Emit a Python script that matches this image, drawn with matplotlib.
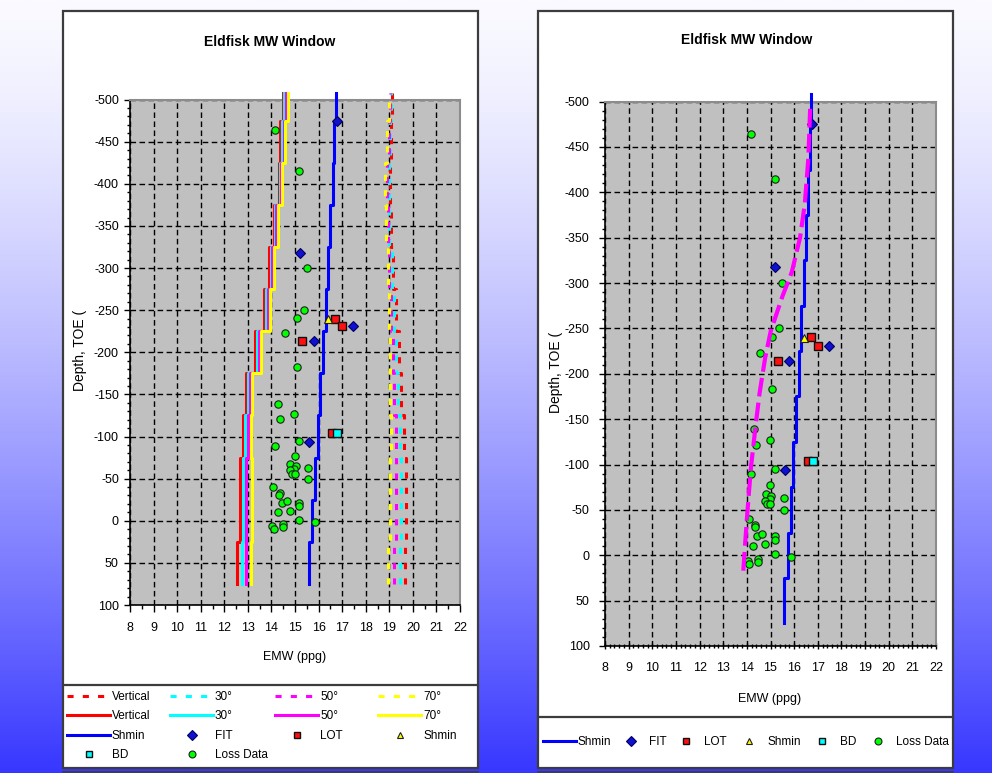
import numpy as np
import matplotlib
matplotlib.use("Agg")
import matplotlib.pyplot as plt
from matplotlib.lines import Line2D
from matplotlib.patches import Rectangle
from matplotlib.ticker import MultipleLocator

plt.rcParams['font.family'] = ['Liberation Sans', 'DejaVu Sans']
plt.rcParams['axes.unicode_minus'] = False

W, H, DPI = 992, 773, 100

# ---------------- data ----------------
# depth boundaries of the mud-weight steps (TOE), bottom to top
step_depth = [75, 25, -75, -125, -175, -225, -275, -325, -375, -425, -475, -508]

# collapse (lower) bound per hole angle, ppg
low_vertical = [12.53, 12.65, 12.78, 12.90, 13.30, 13.67, 13.91, 14.10, 14.30, 14.38, 14.48]
low_30 = [12.75, 12.80, 12.88, 13.00, 13.40, 13.76, 13.97, 14.16, 14.35, 14.45, 14.55]
low_50 = [12.93, 12.93, 13.00, 13.08, 13.48, 13.84, 14.03, 14.21, 14.40, 14.52, 14.62]
low_70 = [13.13, 13.18, 13.12, 13.18, 13.57, 13.92, 14.09, 14.26, 14.45, 14.59, 14.70]

# fracture (upper) bound per hole angle, ppg
up_vertical = [19.66, 19.70, 19.62, 19.50, 19.40, 19.30, 19.17, 19.08, 19.05, 19.08, 19.12]
up_30 = [19.45, 19.50, 19.45, 19.38, 19.30, 19.20, 19.10, 19.00, 18.98, 19.02, 19.08]
up_50 = [19.20, 19.30, 19.27, 19.20, 19.15, 19.08, 19.00, 18.95, 18.92, 18.98, 19.03]
up_70 = [18.95, 19.05, 19.08, 19.05, 19.02, 18.98, 18.93, 18.85, 18.82, 18.90, 18.97]

# minimum horizontal stress profile
shmin_depth = [75, 25, -25, -75, -125, -175, -225, -275, -325, -375, -425, -475, -508]
shmin_emw = [15.58, 15.73, 15.85, 15.96, 16.06, 16.19, 16.31, 16.40, 16.49, 16.60, 16.66, 16.72]

# fitted lower bound (right chart)
fit_curve_depth = [17, -40, -96, -145, -179, -217, -247, -285, -312, -350, -387, -437, -494]
fit_curve_emw = [13.85, 14.00, 14.17, 14.38, 14.54, 14.77, 15.01, 15.50, 15.90, 16.25, 16.45, 16.60, 16.68]

# test points
fit_emw = [16.77, 15.20, 15.79, 17.48, 15.60]
fit_depth = [-475, -318, -214, -231, -94]
lot_emw = [15.30, 16.70, 16.99, 16.57]
lot_depth = [-214, -240, -231, -104]
shmin_pt_emw = [16.40]
shmin_pt_depth = [-239]
bd_emw = [16.78]
bd_depth = [-104]
loss_emw = [14.17, 15.17, 15.50, 15.37, 15.08, 14.57, 15.08, 14.29, 14.96, 14.37,
            15.17, 14.17, 14.99, 14.80, 15.03, 15.57, 14.97, 14.77, 14.87, 14.98,
            15.57, 14.07, 14.35, 14.33, 14.45, 14.66, 15.17, 15.17, 14.27, 14.77,
            15.17, 14.03, 14.10, 14.47, 14.47, 15.86]
loss_depth = [-464, -415, -300, -250, -241, -223, -183, -139, -127, -121,
              -95, -89, -77, -67, -65, -63, -62, -60, -56, -56,
              -50, -40, -33, -31, -21, -23, -21, -17, -10, -12,
              -1.5, 6, 10, 4, 7.5, 1.5]

x_ticks = list(range(8, 23))
y_ticks = list(range(-500, 101, 50))
title = "Eldfisk MW Window"
x_title = "EMW (ppg)"
y_title = "Depth, TOE ("


def step_xy(bounds, vals):
    xs = np.repeat(np.asarray(vals, float), 2)
    b = np.asarray(bounds, float)
    ys = np.column_stack([b[:-1], b[1:]]).ravel()
    return xs, ys


# ---------------- styles ----------------
DOT = (0, (2, 3))
LW = 2.2
styles_marker = dict(
    fit=dict(marker='D', ms=5.2, mfc='#1010d0', mec='#000060', mew=0.8),
    lot=dict(marker='s', ms=5.8, mfc='#ff1010', mec='#101010', mew=1.0),
    shm=dict(marker='^', ms=6.2, mfc='#ffff00', mec='#202020', mew=0.8),
    bd=dict(marker='s', ms=5.8, mfc='#00ffff', mec='#101010', mew=1.0),
    loss=dict(marker='o', ms=5.3, mfc='#00ff00', mec='#202020', mew=0.8),
)

fig = plt.figure(figsize=(W / DPI, H / DPI), dpi=DPI)

# background gradient
bg = fig.add_axes([0, 0, 1, 1], zorder=-10)
t = np.linspace(0, 1, 400)[:, None] ** 1.4
top = np.array([250, 250, 255]) / 255
bot = np.array([55, 55, 255]) / 255
grad = top + (bot - top) * t[..., None]
grad = np.repeat(grad, 2, axis=1)
bg.imshow(grad, aspect='auto', extent=[0, 1, 0, 1])
bg.set_axis_off()


def px_rect(x0, y0, x1, y1, **kw):
    return Rectangle((x0 / W, 1 - y1 / H), (x1 - x0) / W, (y1 - y0) / H,
                     transform=fig.transFigure, **kw)


def hline(x0, x1, y, **kw):
    fig.add_artist(Line2D([x0 / W, x1 / W], [1 - y / H, 1 - y / H],
                          transform=fig.transFigure, **kw))


# white chart panels
for (x0, x1, sep) in [(63, 478, 685), (538, 953, 717)]:
    fig.add_artist(px_rect(x0, 11, x1, 768, facecolor='white',
                           edgecolor='#3c3c3c', lw=1.6, zorder=-5))
    hline(x0, x1, sep, color='#3c3c3c', lw=1.6, zorder=-4)
    hline(x0, x1, 771.5, color='#3c3c3c', lw=1.2, zorder=-4)


def style_axes(ax, xminor, xtickdir, ylabpad, xlabpad):
    ax.set_facecolor('#c0c0c0')
    ax.set_xlim(8, 22)
    ax.set_ylim(100, -500)
    ax.set_xticks(x_ticks)
    ax.set_yticks(y_ticks)
    ax.xaxis.set_minor_locator(MultipleLocator(xminor))
    ax.yaxis.set_minor_locator(MultipleLocator(10))
    ax.grid(True, which='major', color='black', lw=1.0, ls=(0, (4, 2.5)))
    ax.set_axisbelow(True)
    for s in ['top', 'right']:
        ax.spines[s].set_color('#8c8c8c')
        ax.spines[s].set_linewidth(1.5)
    for s in ['left', 'bottom']:
        ax.spines[s].set_color('black')
        ax.spines[s].set_linewidth(1.2)
    ax.tick_params(axis='y', which='major', direction='out', length=4, width=1,
                   labelsize=9, pad=ylabpad)
    ax.tick_params(axis='y', which='minor', direction='out', length=2, width=1)
    ax.tick_params(axis='x', which='major', direction=xtickdir, length=5, width=1,
                   labelsize=9, pad=xlabpad)
    ax.tick_params(axis='x', which='minor', direction=xtickdir, length=3, width=1)


# ---------------- left chart ----------------
axL = fig.add_axes([130 / W, 1 - 605 / H, 330 / W, 505.4 / H])
style_axes(axL, 0.5, 'out', 4, 7)

up_series = [(up_vertical, '#ff0000'), (up_30, '#00ffff'), (up_50, '#ff00ff'), (up_70, '#ffff00')]
low_series = [(low_vertical, '#ff0000'), (low_30, '#00ffff'), (low_50, '#ff00ff'), (low_70, '#ffff00')]
for vals, c in up_series:
    xs, ys = step_xy(step_depth, vals)
    axL.plot(xs, ys, color=c, lw=LW, ls=DOT, clip_on=False, zorder=3)
for vals, c in low_series:
    xs, ys = step_xy(step_depth, vals)
    axL.plot(xs, ys, color=c, lw=LW, clip_on=False, zorder=3)


def common_series(ax):
    xs, ys = step_xy(shmin_depth, shmin_emw)
    ax.plot(xs, ys, color='#0000ff', lw=LW, clip_on=False, zorder=4)
    ax.plot(fit_emw, fit_depth, ls='none', zorder=5, **styles_marker['fit'])
    ax.plot(lot_emw, lot_depth, ls='none', zorder=5, **styles_marker['lot'])
    ax.plot(shmin_pt_emw, shmin_pt_depth, ls='none', zorder=5, **styles_marker['shm'])
    ax.plot(bd_emw, bd_depth, ls='none', zorder=5, **styles_marker['bd'])
    ax.plot(loss_emw, loss_depth, ls='none', zorder=5, **styles_marker['loss'])


common_series(axL)

# ---------------- right chart ----------------
axR = fig.add_axes([605 / W, 1 - 646 / H, 331 / W, 544.5 / H])
style_axes(axR, 0.2, 'inout', 7, 9)
common_series(axR)
axR.plot(fit_curve_emw, fit_curve_depth, color='#ff00ff', lw=3.0,
         ls=(0, (4.5, 1.5)), zorder=6, clip_on=False)

# ---------------- titles ----------------
for cx, ty, xlx, xly, ylx, yly in [(270, 42, 295, 657, 80, 350),
                                   (747, 40, 770, 699, 556, 372)]:
    fig.text(cx / W, 1 - ty / H, title, ha='center', va='center',
             fontsize=10, fontweight='bold')
    fig.text(xlx / W, 1 - xly / H, x_title, ha='center', va='center', fontsize=9)
    fig.text(ylx / W, 1 - yly / H, y_title, ha='center', va='center',
             fontsize=10, rotation=90)

# ---------------- legends ----------------
def h_line(c, ls='-'):
    return Line2D([], [], color=c, lw=LW, ls=ls)


def h_mark(key):
    st = dict(styles_marker[key])
    st['ms'] = 5
    return Line2D([], [], ls='none', **st)


def place_legend(entries, x_px, y_px, hl_px, fs=8.5, spacing=0.62):
    fs_px = fs * DPI / 72
    leg = fig.legend([e[0] for e in entries], [e[1] for e in entries],
                     loc='upper left', bbox_to_anchor=(x_px / W, 1 - y_px / H),
                     frameon=False, fontsize=fs, handlelength=hl_px / fs_px,
                     handletextpad=2 / fs_px, borderpad=0, borderaxespad=0,
                     labelspacing=spacing, numpoints=1)
    return leg


left_cols = [
    [(h_line('#ff0000', DOT), 'Vertical'), (h_line('#ff0000'), 'Vertical'),
     (h_line('#0000ff'), 'Shmin'), (h_mark('bd'), 'BD')],
    [(h_line('#00ffff', DOT), '30°'), (h_line('#00ffff'), '30°'),
     (h_mark('fit'), 'FIT'), (h_mark('loss'), 'Loss Data')],
    [(h_line('#ff00ff', DOT), '50°'), (h_line('#ff00ff'), '50°'),
     (h_mark('lot'), 'LOT')],
    [(h_line('#ffff00', DOT), '70°'), (h_line('#ffff00'), '70°'),
     (h_mark('shm'), 'Shmin')],
]
for col, x in zip(left_cols, [67, 170, 275, 378]):
    place_legend(col, x, 691, 43)

right_items = [(h_line('#0000ff'), 'Shmin'), (h_mark('fit'), 'FIT'),
               (h_mark('lot'), 'LOT'), (h_mark('shm'), 'Shmin'),
               (h_mark('bd'), 'BD'), (h_mark('loss'), 'Loss Data')]
for item, x in zip(right_items, [543, 614, 669, 732, 805, 861]):
    place_legend([item], x, 736, 33)

fig.savefig('out.png', dpi=DPI)
